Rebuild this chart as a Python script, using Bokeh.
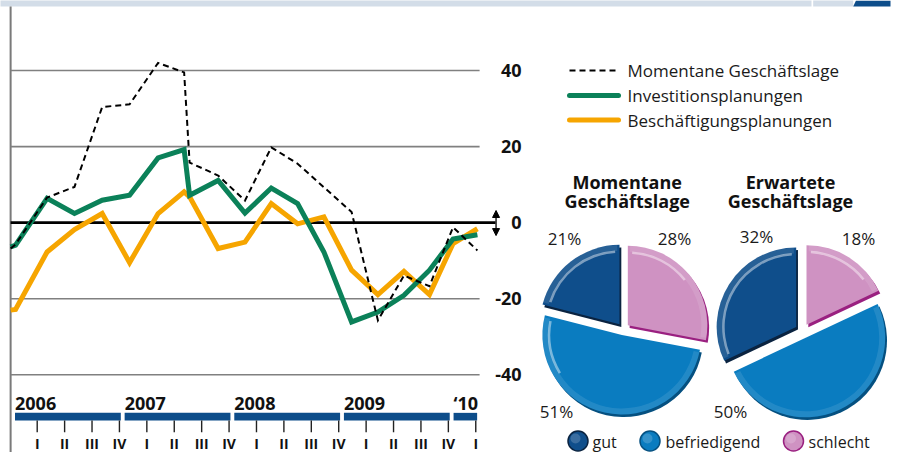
import math
from bokeh.plotting import figure
from bokeh.models import Range1d, Arrow, NormalHead
from bokeh.core.properties import value
from bokeh.embed import file_html
from bokeh.resources import INLINE

# ---------------- data ----------------
# x positions in quarter units (1 = tick "I" of 2006)
quarter_pos = [0.03, 0.21, 1.36, 2.36, 3.37, 4.37, 5.41, 6.36, 6.56, 7.60, 8.58,
               9.54, 10.50, 11.46, 12.47, 13.43, 14.38, 15.31, 16.17, 17.06]
momentane = [-6.8, -5.7, 6.6, 9.4, 30.4, 31.1, 42.0, 39.5, 15.8, 12.4, 5.8,
             19.8, 15.5, 9.3, 2.8, -25.7, -13.9, -16.7, -1.2, -7.3]
investition = [-6.4, -5.9, 6.4, 2.4, 5.9, 7.2, 17.0, 19.2, 7.2, 11.1, 2.5,
               9.1, 5.0, -7.7, -26.1, -23.5, -19.1, -12.5, -4.3, -3.2]
beschaeftigung = [-23.0, -22.8, -7.7, -1.8, 2.4, -10.5, 2.4, 8.1, 6.8, -6.8, -5.1,
                  5.0, -0.3, 1.5, -12.5, -18.9, -12.8, -18.9, -5.5, -1.6]
series_names = ["Momentane Geschäftslage", "Investitionsplanungen", "Beschäftigungsplanungen"]

y_ticks = [40, 20, 0, -20, -40]
y_tick_labels = ["40", "20", "0", "-20", "-40"]
years = ["2006", "2007", "2008", "2009", "\u201810"]
quarters_per_year = [4, 4, 4, 4, 1]
quarter_labels = ["I", "II", "III", "IV"]

pie_titles = [["Momentane", "Geschäftslage"], ["Erwartete", "Geschäftslage"]]
pie_categories = ["gut", "befriedigend", "schlecht"]
pie_momentane = [21, 51, 28]
pie_erwartete = [32, 50, 18]

# ---------------- styles ----------------
FONT = value("Open Sans")
BAND = "#d3dde8"
BAND_DARK = "#0d4d8a"
GRID = "#808080"
GREEN = "#0b8159"
ORANGE = "#f6a500"
YEARBAR = "#0d4d8a"
TXT = "#1a1a1a"
PIE_MAIN = {"gut": "#0f4e8b", "befriedigend": "#0a7cc0", "schlecht": "#cf92c2"}
PIE_DARK = {"gut": "#0a2340", "befriedigend": "#055080", "schlecht": "#9a2080"}

W, H = 897, 452
X0, X1 = -0.339, 32.386
Y0, Y1 = -60.42, 58.40
p = figure(width=W, height=H, x_range=Range1d(X0, X1), y_range=Range1d(Y0, Y1),
           x_axis_type=None, y_axis_type=None, output_backend="svg", toolbar_location=None,
           min_border=0, outline_line_color=None,
           background_fill_color="white", border_fill_color="white")
# panel space for the legend and pie area (page-like units)
p.extra_x_ranges = {"px": Range1d(0, W)}
p.extra_y_ranges = {"px": Range1d(-H, 0)}
PX = dict(x_range_name="px", y_range_name="px")

# top band
p.quad(left=[-5, 812.7], right=[811, 852.7], bottom=[-6, -6], top=[5, 5],
       fill_color=BAND, line_color=None, **PX)
p.patch([852.7, 855.5, 890, 890], [-6, 0, 0, -6], fill_color=BAND_DARK, line_color=None, **PX)

# ---------------- line chart ----------------
AX_X = 0.03
p.segment(x0=[AX_X], x1=[AX_X], y0=[Y0], y1=[56.8], line_color="#7a7a7a", line_width=2)

grid_vals = [v for v in y_ticks if v != 0]
p.segment(x0=[AX_X] * len(grid_vals), x1=[17.14] * len(grid_vals), y0=grid_vals, y1=grid_vals,
          line_color=GRID, line_width=1.6)
p.segment(x0=[AX_X], x1=[17.72], y0=[0], y1=[0], line_color="black", line_width=2.6)

p.line(quarter_pos, beschaeftigung, line_color=ORANGE, line_width=5, line_join="miter")
p.line(quarter_pos, investition, line_color=GREEN, line_width=5, line_join="miter")
p.line(quarter_pos, momentane, line_color="black", line_width=2, line_dash="6 4", line_join="miter")

head = dict(size=7, fill_color="black", line_color="black")
p.add_layout(Arrow(start=NormalHead(**head), end=NormalHead(**head),
                   x_start=17.74, y_start=-3.4, x_end=17.74, y_end=3.2,
                   line_color="black", line_width=1.3))

p.text(x=[18.67] * len(y_ticks), y=y_ticks, text=y_tick_labels, text_align="right",
       text_baseline="middle", text_font=FONT, text_font_style="bold",
       text_font_size="18px", text_color="#111111")

bar_l, bar_r, yl_x, tick_x, tick_lab = [], [], [], [], []
start_q = 0
for yr, nq in zip(years, quarters_per_year):
    bar_l.append(start_q + 0.19)
    bar_r.append(start_q + nq + 0.05)
    yl_x.append(start_q + 0.19)
    for j in range(nq):
        tick_x.append(start_q + j + 1)
        tick_lab.append(quarter_labels[j])
    start_q += nq
p.quad(left=bar_l, right=bar_r, top=[-50.0] * len(bar_l), bottom=[-52.0] * len(bar_l),
       fill_color=YEARBAR, line_color=None)
p.text(x=yl_x, y=[-47.5] * len(yl_x), text=years, text_align="left",
       text_baseline="middle", text_font=FONT, text_font_style="bold",
       text_font_size="18px", text_color="#111111")
p.segment(x0=tick_x, x1=tick_x, y0=[-52.0] * len(tick_x), y1=[-55.1] * len(tick_x),
          line_color="#222222", line_width=1.4)
p.text(x=tick_x, y=[-58.0] * len(tick_x), text=tick_lab, text_align="center",
       text_baseline="middle", text_font=FONT, text_font_style="bold",
       text_font_size="14px", text_color="#111111")

# ---------------- line legend ----------------
leg_y = [-70, -95, -119.5]
styles = [dict(line_color="black", line_width=2, line_dash="6 4"),
          dict(line_color=GREEN, line_width=5, line_cap="round"),
          dict(line_color=ORANGE, line_width=5, line_cap="round")]
for yy, st in zip(leg_y, styles):
    p.segment(x0=[569], x1=[618], y0=[yy], y1=[yy], **st, **PX)
p.text(x=[627] * 3, y=leg_y, text=series_names, text_align="left", text_baseline="middle",
       text_font=FONT, text_font_size="17px", text_color=TXT, **PX)

# ---------------- pies ----------------
pie_specs = [
    dict(values=pie_momentane, c=(622.7, -328.6), d=6.0,
         title_x=626.7, lab_pos={"gut": (564, -238), "schlecht": (674, -238), "befriedigend": (556, -411)}),
    dict(values=pie_erwartete, c=(802.0, -330.5), d=7.5,
         title_x=790.0, lab_pos={"gut": (756, -236), "schlecht": (858, -238), "befriedigend": (730, -411)}),
]
R = 79.5
order = ["schlecht", "befriedigend", "gut"]  # clockwise from 12 o'clock

for spec, titles in zip(pie_specs, pie_titles):
    vals = dict(zip(pie_categories, spec["values"]))
    total = float(sum(spec["values"]))
    cx, cy = spec["c"]
    cum = 0.0
    slices = []
    for cat in order:
        a = cum / total
        b = (cum + vals[cat]) / total
        cum += vals[cat]
        start = math.radians(90 - b * 360)
        end = math.radians(90 - a * 360)
        bis = (start + end) / 2
        vx = cx + spec["d"] * math.cos(bis)
        vy = cy + spec["d"] * math.sin(bis)
        slices.append((cat, start, end, vx, vy))
    for cat, s, e, vx, vy in slices:
        p.wedge(x=[vx + 1.8], y=[vy - 2.6], radius=R, start_angle=s, end_angle=e,
                fill_color=PIE_DARK[cat], line_color=None, **PX)
    for cat, s, e, vx, vy in slices:
        p.wedge(x=[vx], y=[vy], radius=R, start_angle=s, end_angle=e,
                fill_color=PIE_MAIN[cat], line_color=None, **PX)
    for cat, s, e, vx, vy in slices:
        p.annular_wedge(x=[vx], y=[vy], inner_radius=R - 6, outer_radius=R,
                        start_angle=s + 0.03, end_angle=e - 0.03,
                        fill_color="white", fill_alpha=0.10, line_color=None, **PX)
    lo, hi = math.radians(35), math.radians(215)
    for cat, s, e, vx, vy in slices:
        s2, e2 = s, e
        while s2 < -math.pi:
            s2 += 2 * math.pi
            e2 += 2 * math.pi
        hs, he = max(s2, lo) + 0.06, min(e2, hi) - 0.06
        if he > hs:
            p.annular_wedge(x=[vx], y=[vy], inner_radius=R - 8, outer_radius=R - 5.5,
                            start_angle=hs, end_angle=he,
                            fill_color="white", fill_alpha=0.45, line_color=None, **PX)
    p.text(x=[spec["title_x"]] * 2, y=[-181, -200], text=titles, text_align="center",
           text_baseline="middle", text_font=FONT, text_font_style="bold",
           text_font_size="18px", text_color="#111111", **PX)
    for cat in pie_categories:
        lx, ly = spec["lab_pos"][cat]
        p.text(x=[lx], y=[ly], text=["%d%%" % vals[cat]], text_align="center",
               text_baseline="middle", text_font=FONT, text_font_size="17px",
               text_color=TXT, **PX)

# ---------------- bottom legend ----------------
leg_cx = [577.5, 649.5, 793]
leg_tx = [592, 665, 808]
LEG_Y = -440.5
for cat, x_c, x_t in zip(pie_categories, leg_cx, leg_tx):
    p.circle(x=[x_c], y=[LEG_Y], radius=10, fill_color=PIE_MAIN[cat],
             line_color=PIE_DARK[cat], line_width=1.5, **PX)
    p.circle(x=[x_c - 2.5], y=[LEG_Y + 2.5], radius=5, fill_color="white", fill_alpha=0.18,
             line_color=None, **PX)
    p.text(x=[x_t], y=[LEG_Y - 0.5], text=[cat], text_align="left", text_baseline="middle",
           text_font=FONT, text_font_size="16px", text_color=TXT, **PX)

open("out.html", "w").write(file_html(p, INLINE))
